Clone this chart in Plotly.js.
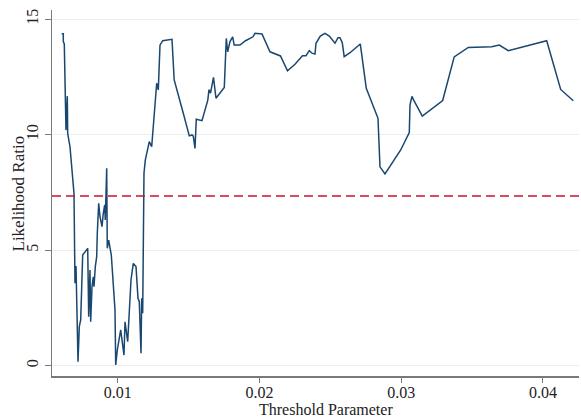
<!DOCTYPE html>
<html>
<head>
<meta charset="utf-8">
<script src="https://cdn.plot.ly/plotly-3.0.1.min.js"></script>
<style>html,body{margin:0;padding:0;background:#fff;}#chart{width:581px;height:417px;}</style>
</head>
<body>
<div id="chart"></div>
<script>
var threshold = [0.00605,0.006163,0.006163,0.006233,0.006353,0.006445,0.006473,0.006635,0.006917,0.006988,0.007059,0.0072,0.007291,0.00739,0.007531,0.007884,0.007954,0.008046,0.008095,0.008187,0.008279,0.008328,0.00842,0.008519,0.008561,0.00866,0.008751,0.008893,0.008984,0.009083,0.009125,0.009224,0.009266,0.009365,0.009549,0.00981,0.009859,0.009972,0.010212,0.010444,0.010515,0.010705,0.010938,0.0111,0.011291,0.011432,0.011524,0.011644,0.011693,0.011763,0.011855,0.011947,0.012229,0.012398,0.012751,0.012864,0.012984,0.013174,0.01383,0.013985,0.014627,0.01505,0.015241,0.015333,0.015453,0.015544,0.015946,0.016355,0.01644,0.016546,0.016757,0.016934,0.017519,0.01766,0.017759,0.017921,0.018112,0.018217,0.018627,0.019015,0.019544,0.019685,0.020179,0.020743,0.021483,0.021977,0.022506,0.023035,0.023282,0.023515,0.023705,0.023917,0.023988,0.024291,0.024622,0.024926,0.025328,0.025539,0.02568,0.025843,0.025977,0.026386,0.027112,0.027535,0.028361,0.028502,0.028855,0.029962,0.030569,0.030618,0.030759,0.030851,0.031486,0.032924,0.033736,0.03473,0.036381,0.036917,0.037552,0.040261,0.041248,0.042137];
var lr = [14.37,14.37,14.03,13.93,10.2,11.67,10.06,9.48,7.46,3.57,4.32,0.17,1.69,1.98,4.79,5.08,2.12,4.14,1.9,3.42,3.85,3.42,4.29,4.72,5.73,7.03,6.45,6.02,6.6,6.96,6.31,8.55,5.08,5.44,4.79,2.41,0.03,0.68,1.55,0.46,1.9,1.04,3.71,4.43,4.29,2.92,2.77,0.54,2.92,2.27,8.33,8.9,9.7,9.48,12.23,11.94,13.88,14.07,14.13,12.37,10.93,9.95,9.99,9.94,9.41,10.67,10.61,11.5,11.95,11.8,12.48,11.58,12.05,14.17,13.59,14.03,14.24,13.88,13.88,14.07,14.24,14.39,14.36,13.59,13.41,12.77,13.05,13.42,13.42,13.64,13.53,13.49,13.96,14.27,14.39,14.27,13.96,14.2,14.2,13.98,13.38,13.55,13.93,12.01,10.71,8.61,8.3,9.34,10.09,11.29,11.66,11.53,10.81,11.48,13.37,13.78,13.81,13.88,13.64,14.07,11.96,11.47];
var criticalValue = 7.35;
var xTickVals = [0.01,0.02,0.03,0.04];
var xTickText = ["0.01","0.02","0.03","0.04"];
var yTickVals = [0,5,10,15];
var yTickText = ["0","5","10","15"];
var xTitle = "Threshold Parameter";
var yTitle = "Likelihood Ratio";

var fontFam = "Liberation Serif, Times New Roman, serif";
var traces = [
  {x: threshold, y: lr, type: 'scatter', mode: 'lines', line: {color: '#1a476f', width: 1.5}, hoverinfo: 'none'}
];
var layout = {
  width: 581, height: 417,
  margin: {l: 52, r: 2, t: 10, b: 41},
  paper_bgcolor: '#ffffff', plot_bgcolor: '#ffffff',
  showlegend: false,
  font: {family: fontFam, color: '#222', size: 16},
  xaxis: {
    range: [0.005366, 0.04254], tickvals: xTickVals, ticktext: xTickText,
    showgrid: false, zeroline: false, showline: true, linecolor: '#7a7a7a', linewidth: 1.5,
    ticks: 'outside', ticklen: 5, tickcolor: '#7a7a7a', tickwidth: 1,
    ticklabelstandoff: -4,
    tickfont: {family: fontFam, size: 16, color: '#222'}
  },
  yaxis: {
    range: [-0.446, 15.4], tickvals: yTickVals, ticktext: yTickText,
    showgrid: true, gridcolor: '#e8f0f2', gridwidth: 1, zeroline: false,
    showline: true, linecolor: '#7a7a7a', linewidth: 1.5,
    ticks: 'outside', ticklen: 6, tickcolor: '#7a7a7a', tickwidth: 1,
    tickangle: -90,
    tickfont: {family: fontFam, size: 16, color: '#222'}
  },
  shapes: [{
    type: 'line', xref: 'paper', x0: 0, x1: 1, yref: 'y', y0: criticalValue, y1: criticalValue,
    line: {color: '#d0112b', width: 1.5, dash: '9px,5px'}
  }],
  annotations: [{
    text: xTitle, xref: 'paper', yref: 'paper', x: 0.52, y: 0, yshift: -33,
    xanchor: 'center', yanchor: 'middle', showarrow: false,
    font: {family: fontFam, size: 16, color: '#222'}
  }, {
    text: yTitle, xref: 'paper', yref: 'paper', x: -0.0636, y: 0.5,
    xanchor: 'center', yanchor: 'middle', showarrow: false, textangle: -90,
    font: {family: fontFam, size: 17, color: '#222'}
  }]
};
Plotly.newPlot('chart', traces, layout, {displayModeBar: false, staticPlot: true});
</script>
</body>
</html>
